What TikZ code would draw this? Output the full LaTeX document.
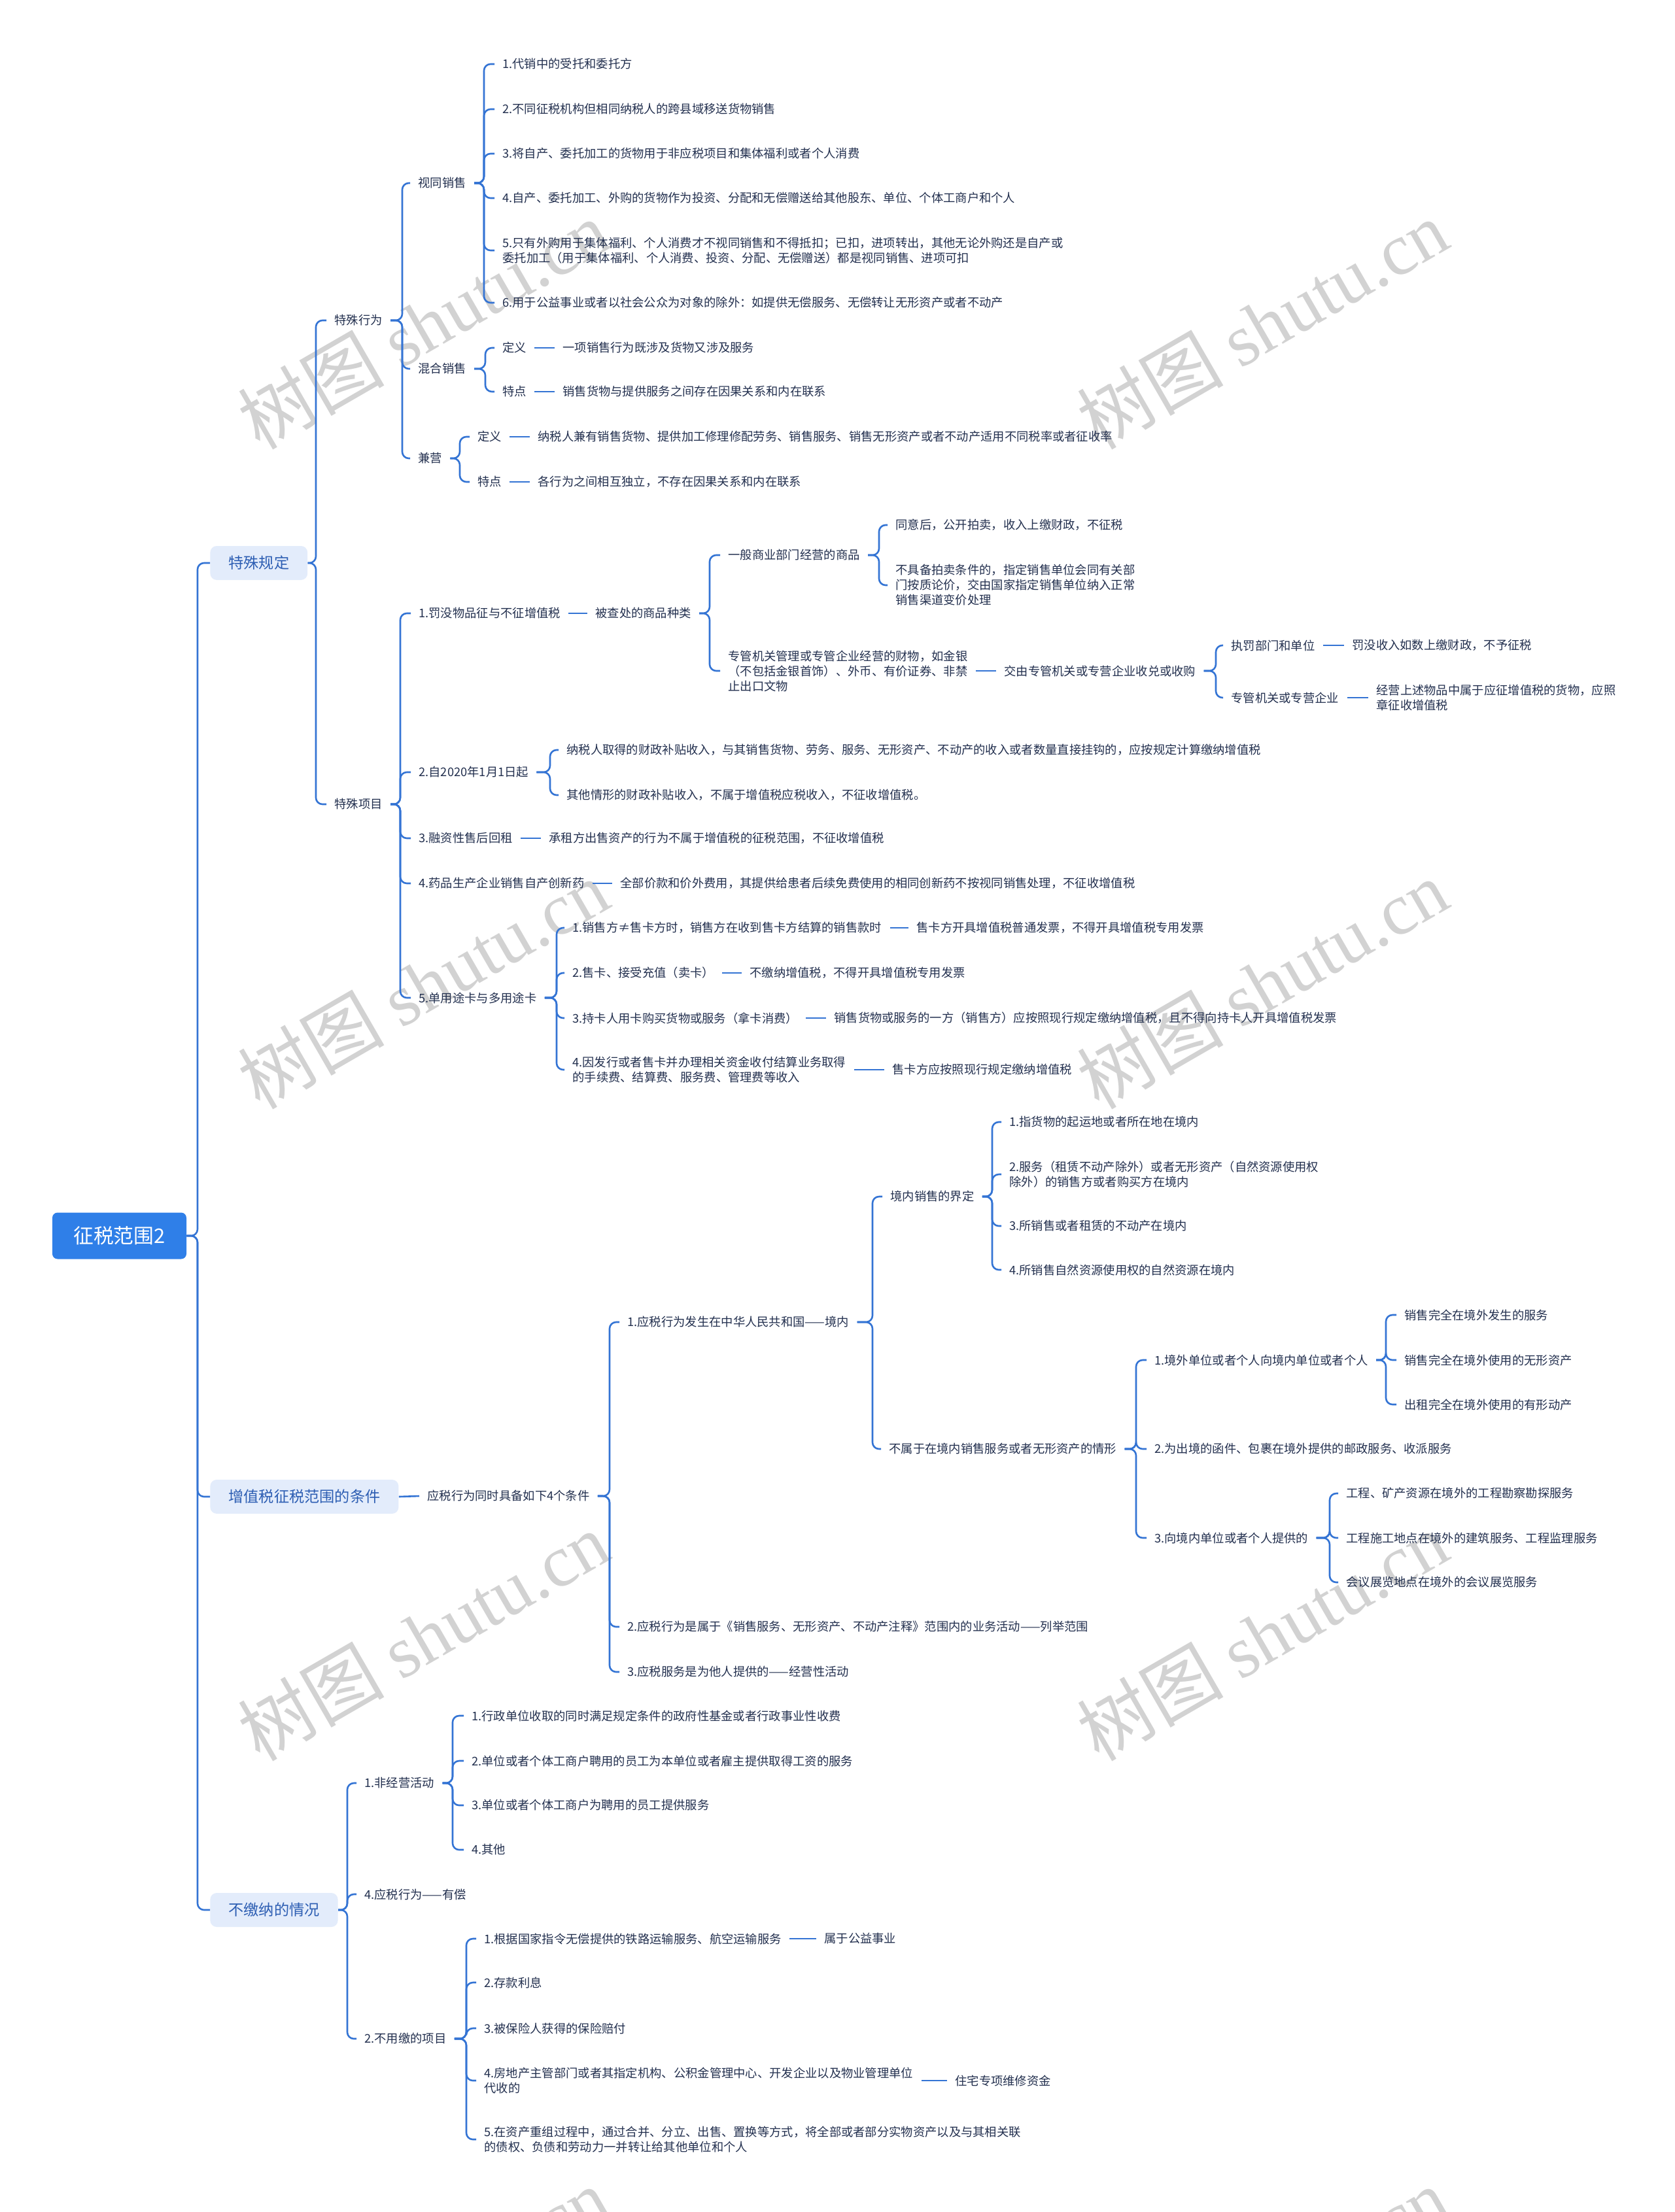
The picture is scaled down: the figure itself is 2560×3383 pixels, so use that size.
\documentclass[tikz,border=0pt]{standalone}
\usepackage{fontspec}
\setmainfont{Noto Sans CJK SC}
\newfontfamily\wmserif{Liberation Serif}
\definecolor{lineblue}{HTML}{3474D4}
\definecolor{rootblue}{HTML}{2F7FE8}
\definecolor{lightbox}{HTML}{E3ECFB}
\definecolor{boxtext}{HTML}{2D5EB3}
\definecolor{txt}{HTML}{23304F}
\definecolor{wmgray}{HTML}{D2D2D2}
\newcommand\fan[3]{\foreach \kid in {#3}{\draw[conn] (#1.east) -- (#1.east -| #2,0) |- (\kid.west);}}
\begin{document}
\begin{tikzpicture}[x=0.5pt,y=-0.5pt,
 conn/.style={draw=lineblue, line width=1.3pt, rounded corners=5pt},
 t/.style={anchor=west, xshift=-6pt, inner xsep=6pt, inner ysep=1pt, align=left, text=txt, font=\fontsize{9.15}{11.5}\selectfont},
 lone/.style={anchor=west, fill=lightbox, rounded corners=5pt, minimum height=26pt, inner xsep=14pt, text=boxtext, font=\fontsize{11.6}{14}\selectfont},
 rootbox/.style={fill=rootblue, rounded corners=4pt, minimum width=102.5pt, minimum height=35.5pt, text=white, font=\fontsize{15.4}{18}\selectfont},
 wm/.style={text=wmgray, rotate=30, font=\fontsize{56}{60}\selectfont}]
\clip (0,0) rectangle (2560,3383);
\fill[white] (0,0) rectangle (2560,3383);
% watermarks
\foreach \wx/\wy [count=\i] in {647/496,1930/496,647/1505,1930/1505,647/2502,1930/2502,647/3505,1930/3505}
  \node[wm] (wm\i) at (\wx,\wy) {树图 {\wmserif shutu.cn}};
% root and level 1
\node[rootbox] (root) at (182.5,1890) {征税范围2};
\node[lone] (A) at (321,861) {特殊规定};
\node[lone] (B) at (321,2289) {增值税征税范围的条件};
\node[lone] (C) at (321,2921) {不缴纳的情况};
\fan{root}{302}{A,B,C}
% ---------- 特殊规定
\node[t] (A1) at (511,490) {特殊行为};
\node[t] (A2) at (511,1230) {特殊项目};
\fan{A}{483}{A1,A2}
\node[t] (A11) at (639,280) {视同销售};
\node[t] (A12) at (639,564) {混合销售};
\node[t] (A13) at (639,701) {兼营};
\fan{A1}{615}{A11,A12,A13}
\node[t] (s1) at (768,98) {1.代销中的受托和委托方};
\node[t] (s2) at (768,167) {2.不同征税机构但相同纳税人的跨县域移送货物销售};
\node[t] (s3) at (768,235) {3.将自产、委托加工的货物用于非应税项目和集体福利或者个人消费};
\node[t] (s4) at (768,303) {4.自产、委托加工、外购的货物作为投资、分配和无偿赠送给其他股东、单位、个体工商户和个人};
\node[t] (s5) at (768,383) {5.只有外购用于集体福利、个人消费才不视同销售和不得抵扣；已扣，进项转出，其他无论外购还是自产或\\委托加工（用于集体福利、个人消费、投资、分配、无偿赠送）都是视同销售、进项可扣};
\node[t] (s6) at (768,463) {6.用于公益事业或者以社会公众为对象的除外：如提供无偿服务、无偿转让无形资产或者不动产};
\fan{A11}{740}{s1,s2,s3,s4,s5,s6}
\node[t] (h1) at (768,532) {定义};
\node[t] (h1t) at (860,532) {一项销售行为既涉及货物又涉及服务};
\node[t] (h2) at (768,599) {特点};
\node[t] (h2t) at (860,599) {销售货物与提供服务之间存在因果关系和内在联系};
\fan{A12}{742}{h1,h2}
\draw[conn] (h1.east) -- (h1t.west);
\draw[conn] (h2.east) -- (h2t.west);
\node[t] (j1) at (730,668) {定义};
\node[t] (j1t) at (822,668) {纳税人兼有销售货物、提供加工修理修配劳务、销售服务、销售无形资产或者不动产适用不同税率或者征收率};
\node[t] (j2) at (730,737) {特点};
\node[t] (j2t) at (822,737) {各行为之间相互独立，不存在因果关系和内在联系};
\fan{A13}{703}{j1,j2}
\draw[conn] (j1.east) -- (j1t.west);
\draw[conn] (j2.east) -- (j2t.west);
% 特殊项目
\node[t] (p1) at (640,938) {1.罚没物品征与不征增值税};
\node[t] (p2) at (640,1181) {2.自2020年1月1日起};
\node[t] (p3) at (640,1282) {3.融资性售后回租};
\node[t] (p4) at (640,1351) {4.药品生产企业销售自产创新药};
\node[t] (p5) at (640,1526) {5.单用途卡与多用途卡};
\fan{A2}{612}{p1,p2,p3,p4,p5}
\node[t] (p1a) at (910,938) {被查处的商品种类};
\draw[conn] (p1.east) -- (p1a.west);
\node[t] (p1b) at (1113,849) {一般商业部门经营的商品};
\node[t] (p1c) at (1113,1026) {专管机关管理或专管企业经营的财物，如金银\\（不包括金银首饰）、外币、有价证券、非禁\\止出口文物};
\fan{p1a}{1085}{p1b,p1c}
\node[t] (p1b1) at (1369,803) {同意后，公开拍卖，收入上缴财政，不征税};
\node[t] (p1b2) at (1369,895) {不具备拍卖条件的，指定销售单位会同有关部\\门按质论价，交由国家指定销售单位纳入正常\\销售渠道变价处理};
\fan{p1b}{1344}{p1b1,p1b2}
\node[t] (p1c1) at (1535,1026) {交由专管机关或专营企业收兑或收购};
\draw[conn] (p1c.east) -- (p1c1.west);
\node[t] (p1c1a) at (1882,987) {执罚部门和单位};
\node[t] (p1c1b) at (1882,1067) {专管机关或专营企业};
\fan{p1c1}{1859}{p1c1a,p1c1b}
\node[t] (p1c1a1) at (2067,987) {罚没收入如数上缴财政，不予征税};
\draw[conn] (p1c1a.east) -- (p1c1a1.west);
\node[t] (p1c1b1) at (2104,1067) {经营上述物品中属于应征增值税的货物，应照\\章征收增值税};
\draw[conn] (p1c1b.east) -- (p1c1b1.west);
\node[t] (p2a) at (866,1147) {纳税人取得的财政补贴收入，与其销售货物、劳务、服务、无形资产、不动产的收入或者数量直接挂钩的，应按规定计算缴纳增值税};
\node[t] (p2b) at (866,1216) {其他情形的财政补贴收入，不属于增值税应税收入，不征收增值税。};
\fan{p2}{841}{p2a,p2b}
\node[t] (p3a) at (839,1282) {承租方出售资产的行为不属于增值税的征税范围，不征收增值税};
\draw[conn] (p3.east) -- (p3a.west);
\node[t] (p4a) at (948,1351) {全部价款和价外费用，其提供给患者后续免费使用的相同创新药不按视同销售处理，不征收增值税};
\draw[conn] (p4.east) -- (p4a.west);
\node[t] (c1) at (875,1419) {1.销售方≠售卡方时，销售方在收到售卡方结算的销售款时};
\node[t] (c2) at (875,1488) {2.售卡、接受充值（卖卡）};
\node[t] (c3) at (875,1557) {3.持卡人用卡购买货物或服务（拿卡消费）};
\node[t] (c4) at (875,1636) {4.因发行或者售卡并办理相关资金收付结算业务取得\\的手续费、结算费、服务费、管理费等收入};
\fan{p5}{851}{c1,c2,c3,c4}
\node[t] (c1a) at (1401,1419) {售卡方开具增值税普通发票，不得开具增值税专用发票};
\node[t] (c2a) at (1146,1488) {不缴纳增值税，不得开具增值税专用发票};
\node[t] (c3a) at (1275,1557) {销售货物或服务的一方（销售方）应按照现行规定缴纳增值税，且不得向持卡人开具增值税发票};
\node[t] (c4a) at (1364,1636) {售卡方应按照现行规定缴纳增值税};
\foreach \a/\b in {c1/c1a,c2/c2a,c3/c3a,c4/c4a}{\draw[conn] (\a.east) -- (\b.west);}
% ---------- 增值税征税范围的条件
\node[t] (B1) at (653,2288) {应税行为同时具备如下4个条件};
\draw[conn] (B.east) -- (B1.west);
\node[t] (q1) at (959,2022) {1.应税行为发生在中华人民共和国——境内};
\node[t] (q2) at (959,2488) {2.应税行为是属于《销售服务、无形资产、不动产注释》范围内的业务活动——列举范围};
\node[t] (q3) at (959,2557) {3.应税服务是为他人提供的——经营性活动};
\fan{B1}{932}{q1,q2,q3}
\node[t] (q1a) at (1361,1830) {境内销售的界定};
\node[t] (q1b) at (1359,2216) {不属于在境内销售服务或者无形资产的情形};
\fan{q1}{1334}{q1a,q1b}
\node[t] (d1) at (1543,1716) {1.指货物的起运地或者所在地在境内};
\node[t] (d2) at (1543,1796) {2.服务（租赁不动产除外）或者无形资产（自然资源使用权\\除外）的销售方或者购买方在境内};
\node[t] (d3) at (1543,1875) {3.所销售或者租赁的不动产在境内};
\node[t] (d4) at (1543,1942) {4.所销售自然资源使用权的自然资源在境内};
\fan{q1a}{1517}{d1,d2,d3,d4}
\node[t] (e1) at (1765,2080) {1.境外单位或者个人向境内单位或者个人};
\node[t] (e2) at (1765,2216) {2.为出境的函件、包裹在境外提供的邮政服务、收派服务};
\node[t] (e3) at (1765,2352) {3.向境内单位或者个人提供的};
\fan{q1b}{1737}{e1,e2,e3}
\node[t] (f1) at (2147,2011) {销售完全在境外发生的服务};
\node[t] (f2) at (2147,2080) {销售完全在境外使用的无形资产};
\node[t] (f3) at (2147,2148) {出租完全在境外使用的有形动产};
\fan{e1}{2119}{f1,f2,f3}
\node[t] (g1) at (2058,2284) {工程、矿产资源在境外的工程勘察勘探服务};
\node[t] (g2) at (2058,2352) {工程施工地点在境外的建筑服务、工程监理服务};
\node[t] (g3) at (2058,2420) {会议展览地点在境外的会议展览服务};
\fan{e3}{2033}{g1,g2,g3}
% ---------- 不缴纳的情况
\node[t] (n1) at (557,2727) {1.非经营活动};
\node[t] (n4) at (557,2897) {4.应税行为——有偿};
\node[t] (n2) at (557,3118) {2.不用缴的项目};
\fan{C}{531}{n1,n4,n2}
\node[t] (k1) at (721,2624) {1.行政单位收取的同时满足规定条件的政府性基金或者行政事业性收费};
\node[t] (k2) at (721,2693) {2.单位或者个体工商户聘用的员工为本单位或者雇主提供取得工资的服务};
\node[t] (k3) at (721,2761) {3.单位或者个体工商户为聘用的员工提供服务};
\node[t] (k4) at (721,2829) {4.其他};
\fan{n1}{692}{k1,k2,k3,k4}
\node[t] (m1) at (740,2965) {1.根据国家指令无偿提供的铁路运输服务、航空运输服务};
\node[t] (m2) at (740,3032) {2.存款利息};
\node[t] (m3) at (740,3102) {3.被保险人获得的保险赔付};
\node[t] (m4) at (740,3182) {4.房地产主管部门或者其指定机构、公积金管理中心、开发企业以及物业管理单位\\代收的};
\node[t] (m5) at (740,3272) {5.在资产重组过程中，通过合并、分立、出售、置换等方式，将全部或者部分实物资产以及与其相关联\\的债权、负债和劳动力一并转让给其他单位和个人};
\fan{n2}{713}{m1,m2,m3,m4,m5}
\node[t] (m1a) at (1260,2965) {属于公益事业};
\draw[conn] (m1.east) -- (m1a.west);
\node[t] (m4a) at (1460,3182) {住宅专项维修资金};
\draw[conn] (m4.east) -- (m4a.west);
\end{tikzpicture}
\end{document}
